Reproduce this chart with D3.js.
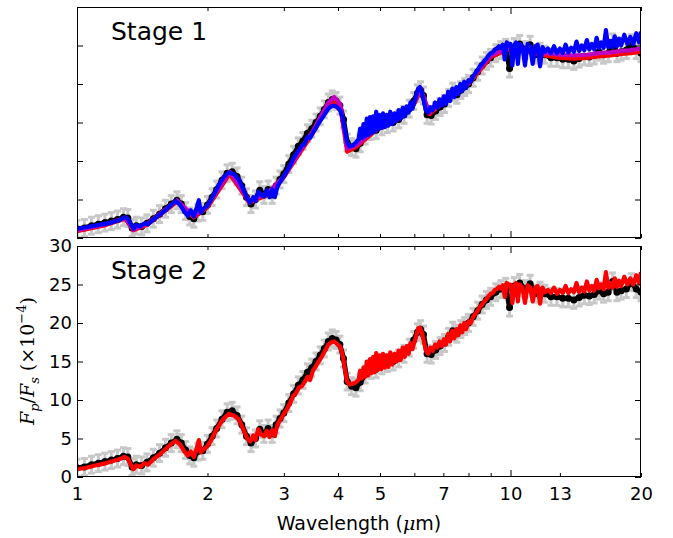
<!DOCTYPE html>
<html>
<head>
<meta charset="utf-8">
<script src="https://cdn.jsdelivr.net/npm/d3@7"></script>
<style>
  body { margin: 0; background: #fff; }
  svg { display: block; font-family: "DejaVu Sans", sans-serif; }
</style>
</head>
<body>
<div id="chart"></div>
<script>
// ---- data (units of 1e-4) ----
const modelWave = [
  1.00, 1.05, 1.10, 1.15, 1.20, 1.25, 1.29, 1.31, 1.33, 1.35,
  1.37, 1.40, 1.43, 1.46, 1.50, 1.55, 1.60, 1.65, 1.69, 1.73,
  1.77, 1.80, 1.83, 1.86, 1.89, 1.91, 1.93, 1.96, 2.00, 2.04,
  2.08, 2.12, 2.18, 2.24, 2.30, 2.36, 2.42, 2.47, 2.51, 2.55,
  2.58, 2.62, 2.66, 2.70, 2.74, 2.78, 2.82, 2.86, 2.90, 2.95,
  3.00, 3.05, 3.10, 3.15, 3.20, 3.25, 3.30, 3.35, 3.40, 3.45,
  3.50, 3.55, 3.60, 3.65, 3.70, 3.75, 3.80, 3.86, 3.92, 3.98,
  4.05, 4.10, 4.15, 4.20, 4.25, 4.32, 4.40, 4.46, 4.50, 4.54,
  4.58, 4.62, 4.66, 4.70, 4.74, 4.78, 4.82, 4.86, 4.90, 4.94,
  4.98, 5.03, 5.08, 5.13, 5.18, 5.23, 5.28, 5.34, 5.40, 5.46,
  5.52, 5.58, 5.64, 5.70, 5.76, 5.82, 5.88, 5.94, 6.00, 6.06,
  6.12, 6.18, 6.24, 6.30, 6.38, 6.46, 6.54, 6.62, 6.70, 6.78,
  6.86, 6.94, 7.02, 7.10, 7.18, 7.26, 7.34, 7.42, 7.50, 7.58,
  7.66, 7.74, 7.82, 7.90, 8.00, 8.10, 8.20, 8.30, 8.40, 8.50,
  8.60, 8.70, 8.80, 8.90, 9.00, 9.10, 9.20, 9.30, 9.40, 9.50,
  9.60, 9.70, 9.80, 9.90, 10.0, 10.1, 10.2, 10.3, 10.4, 10.5,
  10.65, 10.8, 10.95, 11.1, 11.25, 11.4, 11.55, 11.7, 11.85, 12.0,
  12.2, 12.4, 12.6, 12.8, 13.0, 13.2, 13.4, 13.6, 13.8, 14.0,
  14.2, 14.4, 14.6, 14.8, 15.0, 15.2, 15.4, 15.6, 15.8, 16.0,
  16.2, 16.4, 16.6, 16.8, 17.0, 17.2, 17.4, 17.6, 17.8, 18.0,
  18.3, 18.6, 18.9, 19.2, 19.5, 19.8, 20.0
];

// Stage 2 best-fit model (red, lower panel)
const stage2Red = [
  1.0, 1.2, 1.5, 1.7, 2.0, 2.3, 2.6, 2.4, 1.6, 1.0,
  1.5, 1.3, 1.8, 1.6, 2.3, 2.9, 3.6, 4.3, 4.7, 4.2,
  3.3, 2.8, 3.3, 2.6, 3.8, 4.8, 3.2, 3.6, 4.0, 4.8,
  5.8, 6.6, 7.6, 8.2, 8.0, 7.5, 6.2, 5.0, 4.6, 5.4,
  4.8, 6.2, 5.5, 5.3, 6.0, 5.2, 6.1, 5.3, 6.8, 7.5,
  8.2, 8.8, 9.6, 10.5, 10.9, 11.6, 11.8, 12.3, 13.0, 12.6,
  13.8, 14.3, 14.9, 15.4, 16.0, 16.6, 17.2, 17.5, 17.6, 17.3,
  16.9, 15.8, 14.0, 12.4, 12.0, 12.1, 12.3, 12.6, 13.8, 12.8,
  14.2, 13.0, 15.0, 13.2, 15.3, 13.5, 15.6, 13.6, 16.1, 13.9,
  15.8, 14.0, 16.0, 14.2, 15.8, 14.3, 16.2, 14.6, 16.0, 15.0,
  16.4, 15.2, 16.8, 15.6, 17.0, 16.0, 17.4, 16.6, 17.5, 18.3,
  19.3, 19.4, 18.8, 17.8, 16.4, 16.0, 16.8, 16.4, 17.2, 16.8,
  17.6, 17.0, 17.9, 17.2, 18.6, 17.6, 19.0, 18.0, 19.2, 18.4,
  19.7, 18.8, 20.0, 19.2, 20.2, 20.0, 20.8, 21.2, 21.6, 22.1,
  22.4, 22.8, 23.1, 23.5, 23.8, 23.9, 24.3, 24.4, 24.7, 24.5,
  24.9, 23.4, 25.2, 25.0, 25.0, 22.6, 24.8, 25.2, 22.8, 25.0,
  24.6, 22.6, 24.9, 24.6, 22.8, 24.6, 24.8, 22.5, 24.6, 24.0,
  24.3, 23.9, 24.6, 23.8, 24.3, 23.9, 24.8, 23.9, 24.4, 24.0,
  25.2, 24.0, 24.6, 24.1, 25.4, 24.2, 24.8, 24.2, 25.6, 24.5,
  25.0, 24.4, 26.6, 24.6, 25.2, 24.6, 25.8, 24.7, 25.5, 24.8,
  26.0, 25.0, 25.8, 25.0, 26.2, 25.2, 26.6
];

// Stage 1 model (blue, upper panel)
const stage1Blue = [
  1.2, 1.4, 1.6, 1.8, 2.0, 2.3, 2.7, 2.5, 1.8, 1.2,
  1.7, 1.5, 1.9, 1.8, 2.4, 3.0, 3.6, 4.3, 4.8, 4.3,
  3.4, 2.9, 3.6, 2.8, 4.0, 4.9, 3.3, 3.8, 4.2, 5.0,
  5.9, 6.8, 7.9, 8.5, 8.3, 7.6, 6.3, 5.1, 4.6, 5.3,
  4.8, 6.0, 5.6, 5.4, 6.2, 5.3, 6.3, 5.3, 6.7, 7.4,
  8.0, 8.7, 9.4, 10.2, 10.9, 11.4, 12.0, 12.2, 13.1, 13.0,
  13.7, 14.2, 14.8, 15.3, 15.8, 16.3, 16.8, 17.1, 17.2, 17.0,
  16.5, 15.6, 14.0, 12.4, 11.9, 12.0, 12.4, 12.8, 14.2, 13.0,
  14.8, 13.2, 15.5, 13.4, 15.7, 13.6, 15.8, 13.8, 16.4, 14.1,
  16.0, 14.3, 16.2, 14.4, 16.0, 14.6, 16.4, 14.8, 16.2, 15.2,
  16.6, 15.5, 16.9, 15.8, 17.1, 16.3, 17.6, 16.8, 17.7, 18.5,
  19.4, 19.6, 19.0, 17.9, 16.6, 16.3, 17.0, 16.6, 17.6, 16.9,
  18.0, 17.2, 18.4, 17.4, 19.0, 17.8, 19.4, 18.3, 19.6, 18.7,
  20.0, 19.1, 20.3, 19.5, 20.5, 20.3, 21.0, 21.4, 21.8, 22.3,
  22.6, 23.0, 23.3, 23.7, 24.0, 24.1, 24.5, 24.6, 24.9, 24.7,
  25.1, 23.2, 25.4, 25.2, 25.2, 22.4, 25.0, 25.4, 22.6, 25.2,
  24.9, 22.4, 25.2, 24.8, 22.6, 24.9, 25.1, 22.3, 24.8, 24.2,
  24.6, 24.0, 24.9, 24.0, 24.6, 24.0, 25.1, 24.1, 24.7, 24.2,
  25.5, 24.3, 25.0, 24.4, 25.7, 24.5, 25.2, 24.5, 26.0, 24.7,
  25.4, 24.7, 27.0, 24.8, 25.6, 24.8, 26.2, 24.9, 25.9, 25.0,
  26.4, 25.2, 26.1, 25.2, 26.6, 25.4, 26.8
];

// Stage 1 alternative fits (coarser, mostly hidden under blue)
const altWave = [
  1.00, 1.15, 1.29, 1.35, 1.45, 1.70, 1.86, 2.00, 2.25, 2.50,
  2.75, 3.00, 3.50, 3.80, 3.92, 4.05, 4.20, 4.40, 5.00, 5.60,
  6.00, 6.20, 6.50, 7.00, 8.00, 9.00, 10.0, 11.0, 12.0, 13.0,
  14.0, 15.0, 16.0, 17.0, 18.0, 19.0, 20.0
];
const stage1Magenta = [
  1.0, 1.7, 2.6, 1.1, 1.8, 4.9, 2.8, 4.2, 8.6, 4.8,
  5.8, 8.0, 13.9, 17.6, 18.3, 17.4, 11.6, 12.0, 14.6, 15.9,
  17.6, 19.4, 16.3, 17.8, 20.2, 23.7, 24.8, 24.4, 24.0, 23.8,
  23.7, 23.8, 24.0, 24.1, 24.3, 24.4, 24.6
];
const stage1Red = [
  0.9, 1.6, 2.5, 1.0, 1.7, 4.7, 2.7, 4.0, 8.3, 4.6,
  5.6, 7.9, 13.6, 17.2, 17.8, 17.0, 11.2, 11.8, 14.4, 15.7,
  17.4, 19.2, 16.1, 17.6, 20.0, 23.5, 24.6, 24.2, 23.7, 23.4,
  23.3, 23.4, 23.6, 23.7, 23.9, 24.0, 24.2
];

// Observed eclipse spectrum (black points with grey error bars)
const obsWave = [
  1.00, 1.04, 1.08, 1.12, 1.16, 1.20, 1.24, 1.28, 1.31, 1.34,
  1.37, 1.41, 1.45, 1.50, 1.55, 1.60, 1.65, 1.70, 1.74, 1.78,
  1.82, 1.86, 1.90, 1.95, 2.00, 2.05, 2.10, 2.16, 2.22, 2.28,
  2.34, 2.40, 2.46, 2.52, 2.58, 2.64, 2.70, 2.76, 2.82, 2.88,
  2.94, 3.00, 3.08, 3.16, 3.24, 3.32, 3.40, 3.48, 3.56, 3.64,
  3.72, 3.80, 3.88, 3.96, 4.04, 4.12, 4.20, 4.30, 4.40, 4.50,
  4.62, 4.76, 4.90, 5.05, 5.20, 5.36, 5.52, 5.68, 5.84, 5.98,
  6.10, 6.20, 6.30, 6.42, 6.56, 6.72, 6.88, 7.04, 7.20, 7.36,
  7.52, 7.68, 7.84, 8.00, 8.20, 8.40, 8.60, 8.80, 9.00, 9.25,
  9.50, 9.75, 9.95, 10.2, 10.5, 10.8, 11.1, 11.4, 11.7, 12.0,
  12.4, 12.8, 13.2, 13.6, 14.0, 14.4, 14.8, 15.2, 15.6, 16.0,
  16.4, 16.8, 17.2, 17.6, 18.0, 18.5, 19.0, 19.5, 20.0
];
const obsFlux = [
  1.2, 1.3, 1.6, 1.8, 2.0, 2.2, 2.4, 2.7, 2.6, 1.3,
  1.6, 1.5, 1.9, 2.5, 3.1, 3.8, 4.4, 4.9, 4.4, 3.5,
  2.8, 2.5, 3.3, 3.4, 4.3, 5.3, 6.3, 7.5, 8.4, 8.6,
  8.0, 6.8, 5.3, 4.4, 5.0, 6.2, 5.6, 6.3, 5.6, 6.8,
  7.6, 8.3, 9.6, 10.8, 11.9, 12.6, 13.6, 14.2, 15.0, 15.8,
  16.7, 17.6, 18.0, 17.8, 17.2, 15.4, 12.4, 11.8, 11.6, 12.3,
  13.3, 13.9, 14.0, 14.5, 14.8, 15.0, 15.4, 16.0, 16.8, 17.8,
  18.8, 19.2, 18.5, 16.0, 15.9, 16.5, 17.0, 17.4, 18.2, 19.0,
  18.6, 19.2, 19.6, 20.0, 20.8, 21.6, 22.4, 23.0, 23.4, 24.0,
  24.4, 24.7, 22.0, 24.8, 25.2, 24.4, 25.1, 23.8, 24.2, 23.8,
  23.4, 23.4, 23.2, 23.2, 23.0, 23.3, 23.6, 23.5, 23.7, 24.2,
  23.8, 24.0, 25.4, 24.0, 24.2, 24.4, 25.3, 24.4, 24.0
];
const obsErr = 1.1;

const xLabelTicks = [1, 2, 3, 4, 5, 7, 10, 13, 20];
const xMajorTicks = [1, 10];
const xMinorTicks = [2, 3, 4, 5, 6, 7, 8, 9, 20];
const yTicks = [0, 5, 10, 15, 20, 25, 30];

// ---- layout ----
const width = 673, height = 538;
const left = 77, right = 641;
const panels = [
  {name: "Stage 1", top: 7, bottom: 238, showYLabels: false, showXLabels: false,
   models: [
     {wave: altWave, flux: stage1Red, color: "#ff0000"},
     {wave: altWave, flux: stage1Magenta, color: "#c000c0"},
     {wave: modelWave, flux: stage1Blue, color: "#0000ff"}
   ]},
  {name: "Stage 2", top: 246, bottom: 477, showYLabels: true, showXLabels: true,
   models: [
     {wave: modelWave, flux: stage2Red, color: "#ff0000"}
   ]}
];

const x = d3.scaleLog().domain([1, 20]).range([left, right]);

const svg = d3.select("#chart").append("svg")
    .attr("width", width)
    .attr("height", height);

const obs = obsWave.map((w, i) => ({w: w, v: obsFlux[i]}));

panels.forEach((p, pi) => {
    const y = d3.scaleLinear().domain([0, 30]).range([p.bottom, p.top]);

    svg.append("clipPath").attr("id", "clip" + pi)
        .append("rect")
        .attr("x", left).attr("y", p.top)
        .attr("width", right - left).attr("height", p.bottom - p.top);

    const g = svg.append("g").attr("clip-path", `url(#clip${pi})`);

    // grey error bars
    const eb = g.append("g").attr("stroke", "#c8c8c8").attr("stroke-width", 3);
    obs.forEach(d => {
        const cx = x(d.w);
        eb.append("line").attr("x1", cx).attr("x2", cx)
            .attr("y1", y(d.v - obsErr)).attr("y2", y(d.v + obsErr));
        [d.v - obsErr, d.v + obsErr].forEach(v => {
            eb.append("line").attr("x1", cx - 3.5).attr("x2", cx + 3.5)
                .attr("y1", y(v)).attr("y2", y(v));
        });
    });

    // observed data: thick black line + dots
    const obsLine = d3.line().x(d => x(d.w)).y(d => y(d.v));
    g.append("path").datum(obs)
        .attr("d", obsLine)
        .attr("fill", "none")
        .attr("stroke", "#000")
        .attr("stroke-width", 5)
        .attr("stroke-linejoin", "round");
    g.append("g").selectAll("circle")
        .data(obs)
        .enter().append("circle")
        .attr("cx", d => x(d.w))
        .attr("cy", d => y(d.v))
        .attr("r", 3.5)
        .attr("fill", "#000");

    // models
    p.models.forEach(m => {
        const pts = m.wave.map((w, i) => [x(w), y(m.flux[i])]);
        g.append("path").datum(pts)
            .attr("d", d3.line())
            .attr("fill", "none")
            .attr("stroke", m.color)
            .attr("stroke-width", 4.2)
            .attr("stroke-linejoin", "round");
    });

    // ticks, all pointing inward
    const ax = svg.append("g").attr("stroke-width", 1);
    ax.append("g").attr("transform", `translate(0,${p.bottom})`)
        .call(d3.axisBottom(x).tickValues(xMajorTicks).tickSize(-7).tickFormat(""));
    ax.append("g").attr("transform", `translate(0,${p.bottom})`)
        .call(d3.axisBottom(x).tickValues(p.showXLabels ? xMinorTicks.concat([13]) : xMinorTicks)
            .tickSize(-4).tickFormat(""));
    ax.append("g").attr("transform", `translate(0,${p.top})`)
        .call(d3.axisTop(x).tickValues(xMajorTicks).tickSize(-7).tickFormat(""));
    ax.append("g").attr("transform", `translate(0,${p.top})`)
        .call(d3.axisTop(x).tickValues(xMinorTicks).tickSize(-4).tickFormat(""));
    ax.append("g").attr("transform", `translate(${left},0)`)
        .call(d3.axisLeft(y).tickValues(yTicks).tickSize(-6).tickFormat(""));
    ax.append("g").attr("transform", `translate(${right},0)`)
        .call(d3.axisRight(y).tickValues(yTicks).tickSize(-6).tickFormat(""));
    ax.selectAll(".domain").remove();

    if (p.showYLabels) {
        const yl = svg.append("g").attr("transform", `translate(${left},0)`)
            .call(d3.axisLeft(y).tickValues(yTicks).tickSize(0).tickPadding(5));
        yl.select(".domain").remove();
        yl.selectAll("text").attr("font-size", 18)
            .attr("font-family", "DejaVu Sans").attr("fill", "#000");
    }
    if (p.showXLabels) {
        const xl = svg.append("g").attr("transform", `translate(0,${p.bottom})`)
            .call(d3.axisBottom(x).tickValues(xLabelTicks).tickSize(0).tickPadding(10)
                .tickFormat(d3.format("d")));
        xl.select(".domain").remove();
        xl.selectAll("text").attr("font-size", 18)
            .attr("font-family", "DejaVu Sans").attr("fill", "#000");
    }

    // frame
    svg.append("rect")
        .attr("x", left + 0.5).attr("y", p.top + 0.5)
        .attr("width", right - left - 1).attr("height", p.bottom - p.top - 1)
        .attr("fill", "none").attr("stroke", "#000").attr("stroke-width", 1);

    svg.append("text")
        .attr("x", 111)
        .attr("y", p.top + 33)
        .attr("font-size", 25)
        .text(p.name);
});

// axis titles
const xt = svg.append("text")
    .attr("x", (left + right) / 2)
    .attr("y", 530)
    .attr("text-anchor", "middle")
    .attr("font-size", 19);
xt.append("tspan").text("Wavelength (");
xt.append("tspan").attr("font-family", "DejaVu Serif").attr("font-style", "italic").text("μ");
xt.append("tspan").text("m)");

const yt = svg.append("text")
    .attr("transform", "translate(34,361) rotate(-90)")
    .attr("text-anchor", "middle")
    .attr("font-family", "'DejaVu Serif', serif")
    .attr("font-size", 19);
yt.append("tspan").attr("font-style", "italic").text("F");
yt.append("tspan").attr("font-style", "italic").attr("font-size", 13).attr("dy", 5).text("p");
yt.append("tspan").attr("dy", -5).text("/");
yt.append("tspan").attr("font-style", "italic").text("F");
yt.append("tspan").attr("font-style", "italic").attr("font-size", 13).attr("dy", 5).text("s");
yt.append("tspan").attr("dy", -5).text(" (×10");
yt.append("tspan").attr("font-size", 13).attr("dy", -8).text("−4");
yt.append("tspan").attr("dy", 8).text(")");
</script>
</body>
</html>
